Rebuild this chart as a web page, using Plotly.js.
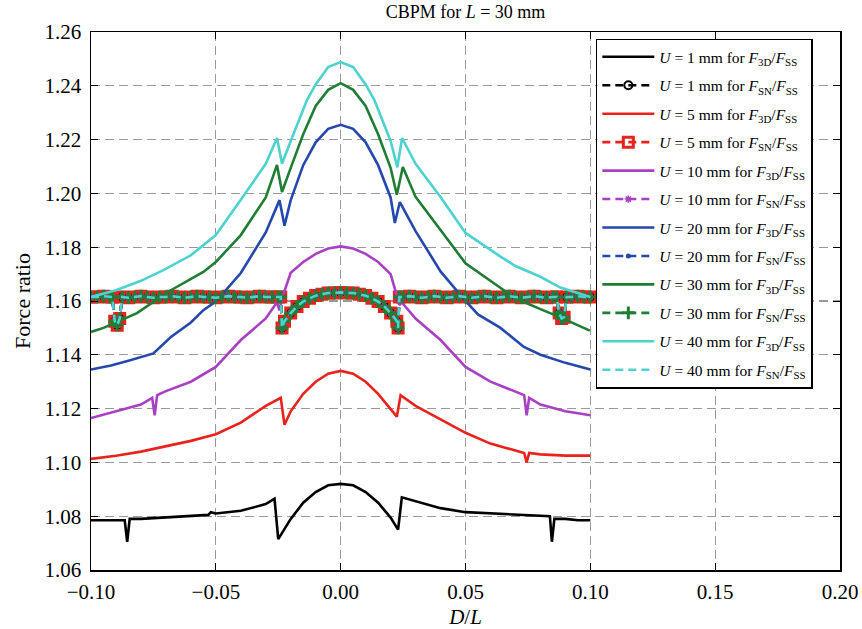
<!DOCTYPE html>
<html>
<head>
<meta charset="utf-8">
<script src="https://cdn.plot.ly/plotly-3.0.1.min.js"></script>
<style>html,body{margin:0;padding:0;background:#fff;}#chart{width:862px;height:629px;}</style>
</head>
<body>
<div id="chart"></div>
<script>
// ---- data ----
const xU1 = [-0.1,-0.095,-0.09,-0.0865,-0.0855,-0.0845,-0.08,-0.07,-0.06,-0.053,-0.052,-0.05,-0.04,-0.03,-0.0265,-0.025,-0.02,-0.015,-0.01,-0.005,0,0.005,0.01,0.015,0.02,0.023,0.0245,0.03,0.04,0.05,0.06,0.07,0.08,0.0838,0.0846,0.0856,0.09,0.095,0.1];
const yU1 = [1.0785,1.0785,1.0785,1.0785,1.0705,1.079,1.079,1.0795,1.080,1.0805,1.0815,1.081,1.082,1.0845,1.0865,1.0715,1.079,1.085,1.089,1.0915,1.092,1.0915,1.089,1.085,1.0795,1.075,1.087,1.0855,1.083,1.0815,1.081,1.0805,1.080,1.080,1.0705,1.079,1.079,1.0785,1.0785];

const xU5 = [-0.1,-0.09,-0.08,-0.07,-0.06,-0.05,-0.04,-0.03,-0.024,-0.0225,-0.02,-0.015,-0.01,-0.005,0,0.005,0.01,0.015,0.02,0.0225,0.024,0.03,0.04,0.05,0.06,0.07,0.0735,0.0745,0.0755,0.08,0.09,0.1];
const yU5 = [1.1013,1.1025,1.104,1.106,1.108,1.1105,1.1148,1.121,1.124,1.114,1.119,1.1255,1.130,1.133,1.134,1.133,1.130,1.1255,1.120,1.117,1.125,1.121,1.116,1.111,1.107,1.1045,1.1035,1.100,1.1035,1.103,1.1025,1.1025];

const xU10 = [-0.1,-0.09,-0.08,-0.0755,-0.0745,-0.0735,-0.07,-0.06,-0.05,-0.04,-0.03,-0.0255,-0.0245,-0.0235,-0.02,-0.015,-0.01,-0.005,0,0.005,0.01,0.015,0.02,0.0225,0.0235,0.0245,0.03,0.04,0.05,0.06,0.07,0.0735,0.0745,0.0755,0.08,0.09,0.1];
const yU10 = [1.1165,1.119,1.1215,1.124,1.1175,1.125,1.1265,1.130,1.1355,1.1455,1.1535,1.1595,1.1565,1.161,1.1705,1.1745,1.1775,1.1795,1.1803,1.1795,1.1775,1.1745,1.170,1.162,1.1585,1.1595,1.1535,1.1455,1.1355,1.130,1.1265,1.125,1.1175,1.124,1.1215,1.119,1.1175];

const xU20 = [-0.1,-0.092,-0.085,-0.075,-0.068,-0.06,-0.055,-0.05,-0.04,-0.03,-0.0245,-0.0225,-0.02,-0.015,-0.01,-0.005,0,0.005,0.01,0.015,0.02,0.0217,0.0237,0.03,0.04,0.05,0.055,0.064,0.0734,0.08,0.09,0.1];
const yU20 = [1.1345,1.136,1.1378,1.1405,1.1466,1.152,1.1566,1.1598,1.1704,1.1855,1.1975,1.1880,1.1975,1.2105,1.219,1.224,1.2255,1.224,1.219,1.2105,1.1985,1.189,1.1968,1.186,1.171,1.160,1.155,1.150,1.1429,1.140,1.137,1.1345];

const xU30 = [-0.1,-0.095,-0.0816,-0.068,-0.055,-0.05,-0.04,-0.03,-0.0255,-0.0235,-0.02,-0.015,-0.01,-0.005,0,0.005,0.01,0.015,0.02,0.0225,0.0249,0.03,0.04,0.05,0.0638,0.07,0.08,0.0878,0.0998];
const yU30 = [1.1485,1.150,1.1555,1.164,1.1708,1.1745,1.1845,1.1985,1.2106,1.2005,1.2095,1.222,1.2325,1.2385,1.241,1.2385,1.2325,1.222,1.2095,1.1995,1.2098,1.1987,1.1864,1.174,1.165,1.161,1.157,1.154,1.149];

const xU40 = [-0.1,-0.09,-0.08,-0.071,-0.06,-0.05,-0.04,-0.03,-0.0255,-0.0235,-0.02,-0.0135,-0.01,-0.005,0,0.005,0.01,0.0135,0.02,0.0227,0.0246,0.03,0.04,0.05,0.064,0.07,0.08,0.088,0.1];
const yU40 = [1.1615,1.164,1.1675,1.1715,1.177,1.1845,1.1976,1.211,1.2206,1.211,1.2195,1.2347,1.2405,1.247,1.2488,1.247,1.2405,1.2347,1.2195,1.2097,1.2206,1.2110,1.1987,1.1853,1.1765,1.173,1.169,1.165,1.1615];

// F_SN / F_SS (all six U values practically coincide)
const xSN = [-0.1,-0.0975,-0.095,-0.0925,-0.0915,-0.0905,-0.0895,-0.0885,-0.0875,-0.085,-0.0825,-0.08,-0.0775,-0.075,-0.0725,-0.07,-0.0675,-0.065,-0.0625,-0.06,-0.0575,-0.055,-0.0525,-0.05,-0.0475,-0.045,-0.0425,-0.04,-0.0375,-0.035,-0.0325,-0.03,-0.0275,-0.025,-0.024,-0.0235,-0.0225,-0.02,-0.0175,-0.015,-0.0125,-0.01,-0.0075,-0.005,-0.0025,0,0.0025,0.005,0.0075,0.01,0.0125,0.015,0.0175,0.02,0.0225,0.023,0.0235,0.025,0.0275,0.03,0.0325,0.035,0.0375,0.04,0.0425,0.045,0.0475,0.05,0.0525,0.055,0.0575,0.06,0.0625,0.065,0.0675,0.07,0.0725,0.075,0.0775,0.08,0.0825,0.085,0.0865,0.0875,0.0885,0.0895,0.0905,0.0925,0.095,0.0975,0.1];
const ySN = [1.1615,1.1615,1.1618,1.1615,1.1615,1.1525,1.151,1.1535,1.1615,1.1612,1.1615,1.1618,1.1615,1.1612,1.1615,1.1615,1.1618,1.1615,1.1612,1.1615,1.1618,1.1615,1.1615,1.1612,1.1615,1.1618,1.1615,1.1615,1.1612,1.1615,1.1618,1.1615,1.1615,1.1615,1.1615,1.150,1.1525,1.1555,1.158,1.1598,1.161,1.162,1.1625,1.163,1.163,1.1632,1.163,1.163,1.1625,1.162,1.161,1.1598,1.158,1.1555,1.1525,1.150,1.1615,1.1615,1.1618,1.1615,1.1612,1.1615,1.1618,1.1615,1.1612,1.1615,1.1618,1.1615,1.1612,1.1615,1.1618,1.1615,1.1612,1.1615,1.1618,1.1615,1.1612,1.1615,1.1618,1.1615,1.1612,1.1615,1.1615,1.1555,1.1535,1.154,1.1615,1.1615,1.1618,1.1615,1.1615];

const uValues = ['1','5','10','20','30','40'];
const x3D = [xU1,xU5,xU10,xU20,xU30,xU40];
const y3D = [yU1,yU5,yU10,yU20,yU30,yU40];
const ySNs = [ySN,ySN,ySN,ySN,ySN,ySN];
const colors = ['#000000','#e8231b','#a93fc3','#2548ad','#1f7d34','#4dd2cf'];
const xTicks = [-0.1,-0.05,0,0.05,0.1,0.15,0.2];
const xTickText = ['\u22120.10','\u22120.05','0.00','0.05','0.10','0.15','0.20'];
const yTicks = [1.06,1.08,1.10,1.12,1.14,1.16,1.18,1.20,1.22,1.24,1.26];
const yTickText = ['1.06','1.08','1.10','1.12','1.14','1.16','1.18','1.20','1.22','1.24','1.26'];

// ---- styles ----
const snMarkers = [
  {symbol:'circle-open', size:8, line:{width:2}},
  {symbol:'square-open', size:10, line:{width:3}},
  {symbol:'asterisk-open', size:6, line:{width:1.5}},
  {symbol:'circle', size:5},
  {symbol:'cross-thin-open', size:9, line:{width:3}},
  null
];

const traces = [];
uValues.forEach((u,i)=>{
  traces.push({
    x:x3D[i], y:y3D[i], type:'scatter', mode:'lines',
    line:{color:colors[i], width:2.6},
    name:'<i>U</i> = '+u+' mm for <i>F</i><sub>3D</sub>/<i>F</i><sub>SS</sub>',
    legendgroup:'g3d'+i
  });
  const m = snMarkers[i];
  const t = {
    x:xSN, y:ySNs[i], type:'scatter', mode: m ? 'lines+markers' : 'lines',
    line:{color:colors[i], width:2.6, dash:'8px,5px'},
    name:'<i>U</i> = '+u+' mm for <i>F</i><sub>SN</sub>/<i>F</i><sub>SS</sub>',
    legendgroup:'gsn'+i
  };
  if (m) t.marker = Object.assign({color:colors[i]}, m, m.line ? {line:Object.assign({color:colors[i]}, m.line)} : {});
  traces.push(t);
});

const serif = 'Liberation Serif, Times New Roman, serif';
const layout = {
  width:862, height:629,
  margin:{l:91, r:22, t:32, b:59},
  paper_bgcolor:'#fff', plot_bgcolor:'#fff',
  font:{family:serif, color:'#000', size:20},
  title:{text:'CBPM for <i>L</i> = 30 mm', font:{family:serif, size:18, color:'#000'}, xref:'paper', x:0.5, xanchor:'center', y:0.981, yanchor:'middle'},
  showlegend:true,
  legend:{x:0.674, y:0.9875, xanchor:'left', yanchor:'top', bgcolor:'#fff', bordercolor:'#000', borderwidth:1.5,
          font:{family:serif, size:15.5, color:'#000'}, tracegroupgap:5.3, traceorder:'grouped', itemwidth:52},
  xaxis:{range:[-0.1,0.2], tickvals:xTicks, ticktext:xTickText,
         showgrid:true, gridcolor:'#9a9a9a', griddash:'9px,5px', gridwidth:1.3,
         zeroline:false, showline:true, linecolor:'#000', linewidth:1.5, mirror:'ticks',
         ticks:'inside', ticklen:7, tickcolor:'#000', tickfont:{size:21, family:serif}, ticklabelstandoff:2,
         title:{text:'<i>D</i>/<i>L</i>', font:{size:21, family:serif}, standoff:6}},
  yaxis:{range:[1.06,1.26], tickvals:yTicks, ticktext:yTickText,
         showgrid:true, gridcolor:'#9a9a9a', griddash:'9px,5px', gridwidth:1.3,
         zeroline:false, showline:true, linecolor:'#000', linewidth:1.5, mirror:'ticks',
         ticks:'inside', ticklen:7, tickcolor:'#000', tickfont:{size:21, family:serif}, ticklabelstandoff:4,
         title:{text:'Force ratio', font:{size:22, family:serif}, standoff:8}}
};

Plotly.newPlot('chart', traces, layout, {displayModeBar:false, staticPlot:true});
</script>
</body>
</html>
